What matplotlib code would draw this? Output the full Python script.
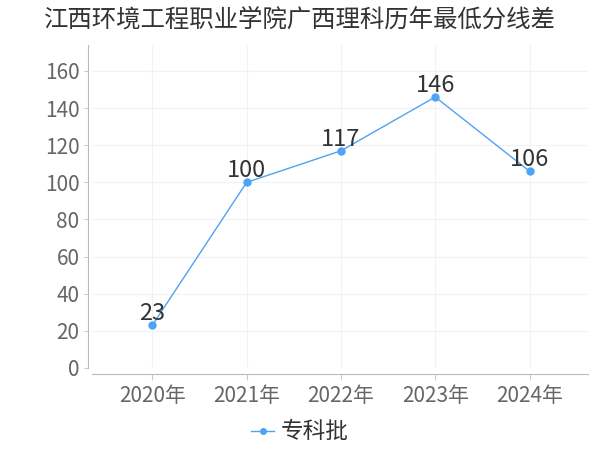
import matplotlib
matplotlib.use("Agg")
import matplotlib.pyplot as plt

plt.rcParams['font.family'] = ['Noto Sans CJK SC', 'DejaVu Sans']

title = "江西环境工程职业学院广西理科历年最低分线差"
years = ["2020年", "2021年", "2022年", "2023年", "2024年"]
values = [23, 100, 117, 146, 106]
series_name = "专科批"
yticks = [0, 20, 40, 60, 80, 100, 120, 140, 160]

color = '#4da3f5'

fig = plt.figure(figsize=(6, 4.5), dpi=100)
W, H = 600, 450
left, right, top, bottom = 92, 588, 45, 368
ax = fig.add_axes([left / W, 1 - bottom / H, (right - left) / W, (bottom - top) / H])

x = list(range(len(years)))
ax.plot(x, values, color=color, lw=1, marker='o', ms=5, label=series_name, zorder=3)
for xi, v in zip(x, values):
    ax.annotate(str(v), (xi, v), xytext=(0, 0), textcoords='offset points',
                ha='center', va='bottom', fontsize=17, color='#333333', zorder=4)

ax.set_xlim(-0.64, 4.62)
ax.set_ylim(0, 174)
ax.set_xticks(x)
ax.set_xticklabels(years)
ax.set_yticks(yticks)
ax.tick_params(axis='x', labelsize=15, colors='#666666', length=4, color='#cccccc', pad=4)
ax.tick_params(axis='y', labelsize=15, colors='#666666', length=3, color='#cccccc', pad=3)
for lbl in ax.get_xticklabels() + ax.get_yticklabels():
    lbl.set_color('#666666')

ax.grid(True, color='#f2f2f2', lw=0.8)
ax.set_axisbelow(True)
for s in ['top', 'right']:
    ax.spines[s].set_visible(False)
ax.spines['left'].set_color('#bbbbbb')
ax.spines['bottom'].set_color('#bbbbbb')
ax.spines['left'].set_position(('outward', 3))
ax.spines['bottom'].set_position(('outward', 4))

fig.text(0.5, 1 - 20 / H, title, ha='center', va='center', fontsize=17.6, color='#333333')

leg = fig.legend(loc='center', bbox_to_anchor=(0.5, 1 - 432 / H), frameon=False,
                 fontsize=16.3, handlelength=1.0, handletextpad=0.3, markerscale=0.8)
for t in leg.get_texts():
    t.set_color('#333333')

fig.savefig('out.png', dpi=100)
